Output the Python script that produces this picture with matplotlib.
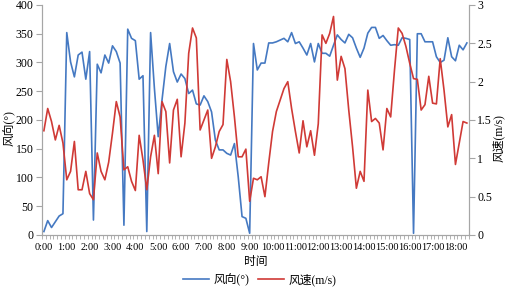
import numpy as np
import matplotlib
matplotlib.use('Agg')
import matplotlib.pyplot as plt

plt.rcParams['font.family'] = ['Liberation Serif', 'Noto Sans CJK SC']

# 10-minute samples, 0:00 .. 18:30
wind_dir = [6, 25, 13, 23, 33, 37, 352, 301, 275, 313, 318, 271, 319, 26, 297, 282,
            313, 299, 329, 319, 299, 17, 358, 342, 338, 271, 277, 6, 352, 255, 171, 235,
            293, 333, 284, 266, 280, 272, 246, 252, 228, 226, 242, 232, 214, 165, 148, 148,
            142, 139, 159, 101, 32, 29, 3, 333, 287, 299, 299, 334, 334, 336, 339, 342,
            336, 352, 333, 336, 325, 313, 333, 301, 333, 316, 316, 311, 330, 348, 340, 334,
            349, 343, 325, 309, 325, 351, 361, 361, 342, 347, 338, 330, 331, 330, 343, 342,
            340, 3, 350, 350, 336, 336, 336, 310, 300, 304, 343, 310, 303, 330, 322, 334]

wind_spd = [1.36, 1.65, 1.48, 1.24, 1.43, 1.20, 0.72, 0.83, 1.22, 0.59, 0.59, 0.83, 0.54, 0.46, 1.07, 0.83,
            0.72, 0.95, 1.33, 1.74, 1.54, 0.85, 0.89, 0.70, 0.58, 1.30, 0.98, 0.59, 1.02, 1.30, 0.80, 1.74,
            1.61, 0.94, 1.63, 1.77, 1.02, 1.46, 2.37, 2.70, 2.57, 1.37, 1.50, 1.63, 1.00, 1.15, 1.35, 1.44,
            2.29, 2.00, 1.54, 1.02, 1.02, 1.12, 0.44, 0.74, 0.72, 0.76, 0.50, 0.94, 1.35, 1.61, 1.76, 1.91,
            2.00, 1.65, 1.35, 1.07, 1.49, 1.15, 1.36, 1.04, 1.45, 2.61, 2.50, 2.63, 2.85, 2.02, 2.33, 2.17,
            1.63, 1.15, 0.61, 0.83, 0.70, 1.89, 1.48, 1.52, 1.46, 1.11, 1.65, 1.54, 2.15, 2.70, 2.63, 2.46,
            2.24, 2.04, 2.03, 1.63, 1.70, 2.07, 1.72, 1.71, 2.30, 1.89, 1.41, 1.57, 0.92, 1.20, 1.48, 1.46]

hour_labels = ['0:00', '1:00', '2:00', '3:00', '4:00', '5:00', '6:00', '7:00', '8:00', '9:00',
               '10:00', '11:00', '12:00', '13:00', '14:00', '15:00', '16:00', '17:00', '18:00']

blue = '#4579C2'
red = '#D03A36'
gray = '#A6A6A6'

x = np.arange(len(wind_dir))

fig = plt.figure(figsize=(5.09, 2.94), dpi=100)
ax = fig.add_axes([0.0825, 0.2007, 0.921 - 0.0825, 0.983 - 0.2007])
ax2 = ax.twinx()

l1, = ax.plot(x, wind_dir, color=blue, linewidth=1.2)
l2, = ax2.plot(x, wind_spd, color=red, linewidth=1.2)

ax.set_xlim(-0.5, len(wind_dir) - 0.5)
ax.set_ylim(0, 400)
ax2.set_ylim(0, 3)
ax.set_yticks(np.arange(0, 401, 50))
ax2.set_yticks([0, 0.5, 1, 1.5, 2, 2.5, 3])
ax2.set_yticklabels(['0', '0.5', '1', '1.5', '2', '2.5', '3'])

ax.set_xticks(np.arange(0, len(wind_dir), 6)[:len(hour_labels)])
ax.set_xticklabels(hour_labels)
ax.set_xticks(np.arange(-0.5, len(wind_dir), 1), minor=True)
ax.tick_params(axis='x', which='major', length=0, pad=6, labelsize=7.5)
ax.tick_params(axis='x', which='minor', length=3, color=gray, direction='out')
ax.tick_params(axis='y', length=4, color=gray, direction='out', labelsize=8.5, pad=2)
ax2.tick_params(axis='y', length=4, color=gray, direction='out', labelsize=8.5, pad=2)

for a in (ax, ax2):
    for s in a.spines.values():
        s.set_color(gray)
        s.set_linewidth(0.8)
    a.spines['top'].set_visible(False)

ax.set_xlabel('时间', fontsize=8.5, labelpad=3)
# axis titles placed by hand so they stay inside the canvas
fig.text(10 / 509, 1 - 128 / 294, '风向(°)', rotation=90, fontsize=8.5,
         ha='center', va='center')
fig.text(499 / 509, 1 - 138 / 294, '风速(m/s)', rotation=90, fontsize=8.5,
         ha='center', va='center')

fig.legend([l1, l2], ['风向(°)', '风速(m/s)'], loc='lower center', ncol=2,
           bbox_to_anchor=(0.51, -0.01), frameon=False, fontsize=8.5,
           handlelength=2.2, handletextpad=0.4, columnspacing=0.7)

fig.savefig('out.png', dpi=100)
